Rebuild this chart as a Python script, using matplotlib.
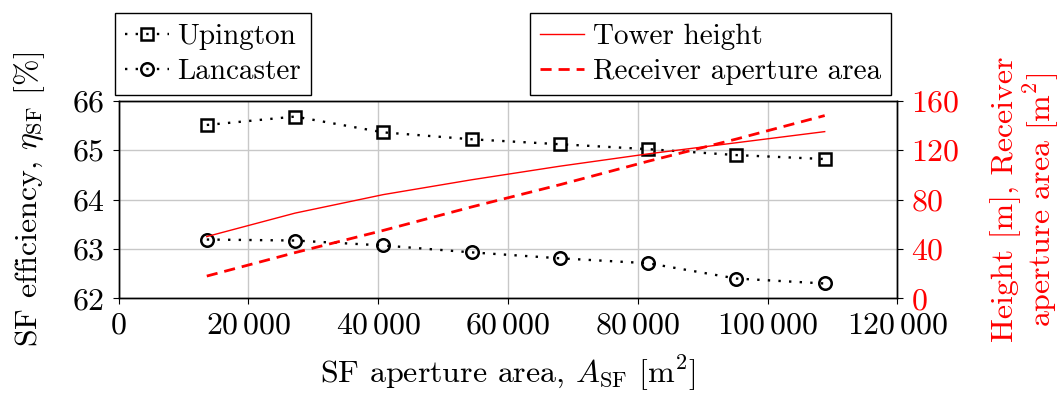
import numpy as np
import matplotlib
matplotlib.use("Agg")
import matplotlib.pyplot as plt
from matplotlib.ticker import FuncFormatter, MultipleLocator

# LaTeX-like look
plt.rcParams['font.family'] = 'cmr10'
plt.rcParams['mathtext.fontset'] = 'cm'
plt.rcParams['axes.formatter.use_mathtext'] = True
plt.rcParams['font.size'] = 23

# Data
sf_area = [13600, 27200, 40800, 54400, 68000, 81600, 95200, 108800]
eff_upington = [65.51, 65.68, 65.36, 65.22, 65.12, 65.02, 64.90, 64.82]
eff_lancaster = [63.19, 63.17, 63.07, 62.93, 62.81, 62.71, 62.40, 62.30]
tower_height = [50, 69, 84, 96, 107, 117, 126, 135]
receiver_area = [18, 37, 55, 74, 92, 111, 129, 148]

fig = plt.figure(figsize=(10.62, 3.97), dpi=100)
ax = fig.add_axes([0.1116, 0.2486, 0.7334, 0.4976])
ax2 = ax.twinx()

dot = (0, (1, 3.5))
l1, = ax.plot(sf_area, eff_upington, color='black', linestyle=dot, linewidth=1.7,
              marker='s', markersize=9, markerfacecolor='none', markeredgewidth=1.8,
              label='Upington')
l2, = ax.plot(sf_area, eff_lancaster, color='black', linestyle=dot, linewidth=1.7,
              marker='o', markersize=9, markerfacecolor='none', markeredgewidth=1.8,
              label='Lancaster')
l3, = ax2.plot(sf_area, tower_height, color='red', linewidth=1.0, label='Tower height')
l4, = ax2.plot(sf_area, receiver_area, color='red', linewidth=2.0, linestyle=(0, (4, 2.5)),
               label='Receiver aperture area')

ax.set_xlim(0, 120000)
ax.set_ylim(62, 66)
ax2.set_ylim(0, 160)
ax.xaxis.set_major_locator(MultipleLocator(20000))
ax.yaxis.set_major_locator(MultipleLocator(1))
ax2.yaxis.set_major_locator(MultipleLocator(40))

def thousands(v, pos):
    v = int(round(v))
    if v == 0:
        return '$0$'
    s = f'{v:,}'.replace(',', r'\,')
    return f'${s}$'

ax.xaxis.set_major_formatter(FuncFormatter(thousands))
ax.yaxis.set_major_formatter(FuncFormatter(lambda v, p: f'${int(round(v))}$'))
ax2.yaxis.set_major_formatter(FuncFormatter(lambda v, p: f'${int(round(v))}$'))

ax.grid(True, color='#c8c8c8', linewidth=1.0)
ax.set_axisbelow(True)
for a in (ax, ax2):
    a.tick_params(direction='out', length=4, width=0.8, pad=6)
    for s in a.spines.values():
        s.set_linewidth(1.0)
ax2.tick_params(axis='y', colors='red', labelcolor='red')
ax2.tick_params(axis='y', color='black')

ax.set_xlabel(r'SF aperture area, $A_\mathrm{SF}$ [m$^2$]', labelpad=10)
ax.set_ylabel(r'SF efficiency, $\eta_\mathrm{SF}$ [%]', labelpad=18)
ax2.set_ylabel('Height [m], Receiver\n' + r'aperture area [m$^2$]', color='red',
               labelpad=22, linespacing=1.0)

leg_kw = dict(frameon=True, fancybox=False, edgecolor='black', framealpha=1,
              borderpad=0.35, labelspacing=0.3, handletextpad=0.3, borderaxespad=0,
              fontsize=21, handlelength=1.5)
leg1 = fig.legend(handles=[l1, l2], loc='upper left', bbox_to_anchor=(0.108, 0.967),
                  **leg_kw)
leg2 = fig.legend(handles=[l3, l4], loc='upper right', bbox_to_anchor=(0.839, 0.967),
                  **leg_kw)
for lg in (leg1, leg2):
    lg.get_frame().set_linewidth(1.0)

fig.savefig('out.png', dpi=100)
